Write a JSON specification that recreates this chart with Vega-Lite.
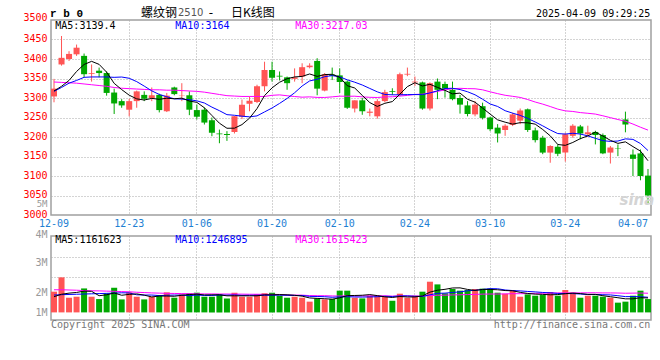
{
"$schema": "https://vega.github.io/schema/vega-lite/v6.json",
"background": "white",
"padding": {"left": 22, "top": 5, "right": 8, "bottom": 4},
"spacing": 21,
"bounds": "flush",
"config": {
  "view": {"stroke": "#a0a0a0", "strokeWidth": 1.5},
  "axis": {"labelFont": "DejaVu Sans Mono", "labelFontSize": 10, "domain": false, "ticks": false, "gridColor": "#a8a8a8", "gridDash": [1, 2], "gridWidth": 1, "labelFlush": false, "labelOverlap": false}
},
"data": {"values": [
{"d":"12-09","o":3304,"h":3349,"l":3289,"c":3324,"v":1850000,"m5":3318,"m10":3317,"m30":3341,"v5":1400000,"v10":1550000,"v30":2020000},
{"d":"12-10","o":3386,"h":3459,"l":3383,"c":3403,"v":3130000,"m5":3330,"m10":3327,"m30":3340,"v5":1620000,"v10":1580000,"v30":2020000},
{"d":"12-11","o":3400,"h":3420,"l":3395,"c":3413,"v":1310000,"m5":3345,"m10":3338,"m30":3339,"v5":1720000,"v10":1600000,"v30":2000000},
{"d":"12-12","o":3412,"h":3437,"l":3408,"c":3429,"v":1400000,"m5":3368,"m10":3345,"m30":3338,"v5":1780000,"v10":1620000,"v30":1980000},
{"d":"12-13","o":3408,"h":3414,"l":3353,"c":3361,"v":2140000,"m5":3386,"m10":3353,"m30":3336,"v5":1900000,"v10":1640000,"v30":1950000},
{"d":"12-16","o":3362,"h":3386,"l":3342,"c":3364,"v":1400000,"m5":3394,"m10":3354,"m30":3334,"v5":1880000,"v10":1660000,"v30":1930000},
{"d":"12-17","o":3370,"h":3378,"l":3353,"c":3364,"v":1190000,"m5":3386.2,"m10":3354,"m30":3332,"v5":1490000,"v10":1680000,"v30":1920000},
{"d":"12-18","o":3364,"h":3368,"l":3306,"c":3313,"v":1700000,"m5":3366.2,"m10":3354,"m30":3330,"v5":1570000,"v10":1700000,"v30":1900000},
{"d":"12-19","o":3314,"h":3324,"l":3259,"c":3286,"v":2200000,"m5":3337.6,"m10":3353,"m30":3327,"v5":1730000,"v10":1720000,"v30":1880000},
{"d":"12-20","o":3292,"h":3297,"l":3275,"c":3281,"v":1160000,"m5":3321.6,"m10":3353.8,"m30":3325,"v5":1530000,"v10":1750000,"v30":1860000},
{"d":"12-23","o":3270,"h":3298,"l":3253,"c":3292,"v":1790000,"m5":3307.2,"m10":3350.6,"m30":3324,"v5":1610000,"v10":1740000,"v30":1840000},
{"d":"12-24","o":3292,"h":3319,"l":3275,"c":3317,"v":1400000,"m5":3297.8,"m10":3342.0,"m30":3323,"v5":1650000,"v10":1570000,"v30":1800000},
{"d":"12-25","o":3308,"h":3317,"l":3292,"c":3298,"v":1160000,"m5":3294.8,"m10":3330.5,"m30":3322,"v5":1540000,"v10":1550000,"v30":1770000},
{"d":"12-26","o":3300,"h":3327,"l":3292,"c":3307,"v":1400000,"m5":3299,"m10":3318.3,"m30":3321,"v5":1380000,"v10":1550000,"v30":1740000},
{"d":"12-27","o":3308,"h":3311,"l":3263,"c":3269,"v":1550000,"m5":3296.6,"m10":3309.1,"m30":3321,"v5":1460000,"v10":1500000,"v30":1720000},
{"d":"12-30","o":3266,"h":3313,"l":3264,"c":3306,"v":1790000,"m5":3299.4,"m10":3303.3,"m30":3320,"v5":1460000,"v10":1530000,"v30":1700000},
{"d":"12-31","o":3327,"h":3329,"l":3307,"c":3310,"v":1310000,"m5":3298,"m10":3297.9,"m30":3320,"v5":1440000,"v10":1550000,"v30":1690000},
{"d":"01-02","o":3305,"h":3338,"l":3292,"c":3306,"v":1610000,"m5":3299.6,"m10":3297.2,"m30":3319,"v5":1530000,"v10":1540000,"v30":1680000},
{"d":"01-03","o":3307,"h":3317,"l":3256,"c":3270,"v":1700000,"m5":3292.2,"m10":3295.6,"m30":3318,"v5":1590000,"v10":1490000,"v30":1670000},
{"d":"01-06","o":3269,"h":3283,"l":3245,"c":3252,"v":1760000,"m5":3288.8,"m10":3292.7,"m30":3317,"v5":1630000,"v10":1550000,"v30":1660000},
{"d":"01-07","o":3270,"h":3276,"l":3232,"c":3237,"v":1400000,"m5":3275,"m10":3287.2,"m30":3315,"v5":1560000,"v10":1510000,"v30":1650000},
{"d":"01-08","o":3243,"h":3250,"l":3202,"c":3211,"v":1400000,"m5":3255.2,"m10":3276.6,"m30":3312,"v5":1570000,"v10":1510000,"v30":1650000},
{"d":"01-09","o":3209,"h":3219,"l":3184,"c":3207,"v":1610000,"m5":3235.4,"m10":3267.5,"m30":3309,"v5":1570000,"v10":1550000,"v30":1640000},
{"d":"01-10","o":3208,"h":3215,"l":3190,"c":3205,"v":1250000,"m5":3222.4,"m10":3257.3,"m30":3306,"v5":1480000,"v10":1540000,"v30":1640000},
{"d":"01-13","o":3213,"h":3254,"l":3209,"c":3253,"v":1760000,"m5":3222.6,"m10":3255.7,"m30":3305,"v5":1480000,"v10":1560000,"v30":1630000},
{"d":"01-14","o":3252,"h":3296,"l":3246,"c":3283,"v":1400000,"m5":3231.8,"m10":3253.4,"m30":3304,"v5":1480000,"v10":1520000,"v30":1630000},
{"d":"01-15","o":3285,"h":3304,"l":3266,"c":3293,"v":1400000,"m5":3248.2,"m10":3251.7,"m30":3304,"v5":1480000,"v10":1530000,"v30":1620000},
{"d":"01-16","o":3290,"h":3334,"l":3287,"c":3330,"v":1610000,"m5":3272.8,"m10":3254.1,"m30":3304,"v5":1480000,"v10":1530000,"v30":1620000},
{"d":"01-17","o":3330,"h":3393,"l":3317,"c":3372,"v":1700000,"m5":3306.2,"m10":3264.3,"m30":3304,"v5":1570000,"v10":1530000,"v30":1610000},
{"d":"01-20","o":3372,"h":3393,"l":3342,"c":3352,"v":1760000,"m5":3326,"m10":3274.3,"m30":3306.9,"v5":1570000,"v10":1530000,"v30":1610000},
{"d":"01-21","o":3357,"h":3368,"l":3345,"c":3355,"v":1490000,"m5":3340.4,"m10":3286.1,"m30":3308.0,"v5":1590000,"v10":1540000,"v30":1600000},
{"d":"01-22","o":3353,"h":3355,"l":3321,"c":3338,"v":1310000,"m5":3349.4,"m10":3298.8,"m30":3305.8,"v5":1570000,"v10":1530000,"v30":1540000},
{"d":"01-23","o":3349,"h":3376,"l":3342,"c":3353,"v":1400000,"m5":3354,"m10":3313.4,"m30":3303.8,"v5":1530000,"v10":1510000,"v30":1540000},
{"d":"01-24","o":3355,"h":3389,"l":3338,"c":3379,"v":1310000,"m5":3355.4,"m10":3330.8,"m30":3302.1,"v5":1450000,"v10":1510000,"v30":1540000},
{"d":"01-27","o":3379,"h":3389,"l":3376,"c":3383,"v":960000,"m5":3361.6,"m10":3343.8,"m30":3302.9,"v5":1290000,"v10":1430000,"v30":1500000},
{"d":"02-05","o":3395,"h":3402,"l":3307,"c":3324,"v":1250000,"m5":3355.4,"m10":3347.9,"m30":3301.5,"v5":1250000,"v10":1420000,"v30":1490000},
{"d":"02-06","o":3319,"h":3364,"l":3317,"c":3361,"v":1160000,"m5":3360,"m10":3354.7,"m30":3301.4,"v5":1220000,"v10":1400000,"v30":1490000},
{"d":"02-07","o":3360,"h":3378,"l":3346,"c":3357,"v":1200000,"m5":3360.8,"m10":3357.4,"m30":3302.9,"v5":1180000,"v10":1350000,"v30":1470000},
{"d":"02-10","o":3358,"h":3376,"l":3313,"c":3341,"v":1940000,"m5":3353.2,"m10":3354.3,"m30":3304.7,"v5":1300000,"v10":1380000,"v30":1460000},
{"d":"02-11","o":3342,"h":3345,"l":3272,"c":3275,"v":1940000,"m5":3331.6,"m10":3346.6,"m30":3304.5,"v5":1500000,"v10":1400000,"v30":1490000},
{"d":"02-12","o":3273,"h":3294,"l":3263,"c":3294,"v":1310000,"m5":3325.6,"m10":3340.5,"m30":3304.6,"v5":1510000,"v10":1380000,"v30":1470000},
{"d":"02-13","o":3294,"h":3300,"l":3257,"c":3266,"v":1250000,"m5":3306.6,"m10":3333.3,"m30":3302.9,"v5":1530000,"v10":1370000,"v30":1470000},
{"d":"02-14","o":3262,"h":3273,"l":3253,"c":3265,"v":1490000,"m5":3288.2,"m10":3324.5,"m30":3301.8,"v5":1590000,"v10":1380000,"v30":1480000},
{"d":"02-17","o":3253,"h":3297,"l":3247,"c":3292,"v":1490000,"m5":3278.4,"m10":3315.8,"m30":3301.3,"v5":1500000,"v10":1400000,"v30":1480000},
{"d":"02-18","o":3292,"h":3321,"l":3289,"c":3315,"v":1400000,"m5":3286.4,"m10":3309.0,"m30":3302.8,"v5":1390000,"v10":1440000,"v30":1480000},
{"d":"02-19","o":3318,"h":3325,"l":3308,"c":3316,"v":1040000,"m5":3290.8,"m10":3308.2,"m30":3303.2,"v5":1330000,"v10":1420000,"v30":1450000},
{"d":"02-20","o":3308,"h":3365,"l":3306,"c":3361,"v":1670000,"m5":3309.8,"m10":3308.2,"m30":3304.9,"v5":1420000,"v10":1470000,"v30":1470000},
{"d":"02-21","o":3360,"h":3378,"l":3356,"c":3362,"v":1310000,"m5":3329.2,"m10":3308.7,"m30":3306.7,"v5":1380000,"v10":1480000,"v30":1460000},
{"d":"02-24","o":3340,"h":3355,"l":3331,"c":3342,"v":1490000,"m5":3339.2,"m10":3308.8,"m30":3309.1,"v5":1380000,"v10":1440000,"v30":1450000},
{"d":"02-25","o":3340,"h":3342,"l":3270,"c":3273,"v":1850000,"m5":3330.8,"m10":3308.6,"m30":3309.8,"v5":1470000,"v10":1430000,"v30":1450000},
{"d":"02-26","o":3273,"h":3340,"l":3268,"c":3338,"v":2740000,"m5":3335.2,"m10":3313.0,"m30":3313.2,"v5":1810000,"v10":1570000,"v30":1500000},
{"d":"02-27","o":3342,"h":3350,"l":3297,"c":3321,"v":2500000,"m5":3327.2,"m10":3318.5,"m30":3316.9,"v5":1980000,"v10":1700000,"v30":1530000},
{"d":"02-28","o":3336,"h":3342,"l":3301,"c":3324,"v":1700000,"m5":3319.6,"m10":3324.4,"m30":3320.8,"v5":2060000,"v10":1720000,"v30":1540000},
{"d":"03-03","o":3321,"h":3342,"l":3294,"c":3297,"v":2090000,"m5":3310.6,"m10":3324.9,"m30":3323.8,"v5":2180000,"v10":1780000,"v30":1560000},
{"d":"03-04","o":3300,"h":3308,"l":3260,"c":3283,"v":1940000,"m5":3312.6,"m10":3321.7,"m30":3324.8,"v5":2190000,"v10":1830000,"v30":1570000},
{"d":"03-05","o":3281,"h":3292,"l":3253,"c":3259,"v":2000000,"m5":3296.8,"m10":3316.0,"m30":3324.0,"v5":2050000,"v10":1930000,"v30":1590000},
{"d":"03-06","o":3258,"h":3292,"l":3253,"c":3283,"v":2090000,"m5":3289.2,"m10":3308.2,"m30":3323.7,"v5":1960000,"v10":1970000,"v30":1610000},
{"d":"03-07","o":3279,"h":3288,"l":3245,"c":3249,"v":2120000,"m5":3274.2,"m10":3296.9,"m30":3321.0,"v5":2050000,"v10":2050000,"v30":1630000},
{"d":"03-10","o":3250,"h":3252,"l":3215,"c":3220,"v":2120000,"m5":3258.8,"m10":3284.7,"m30":3315.9,"v5":2050000,"v10":2120000,"v30":1640000},
{"d":"03-11","o":3224,"h":3233,"l":3186,"c":3209,"v":1760000,"m5":3244,"m10":3278.3,"m30":3311.2,"v5":2020000,"v10":2110000,"v30":1640000},
{"d":"03-12","o":3218,"h":3233,"l":3203,"c":3229,"v":1670000,"m5":3238,"m10":3267.4,"m30":3307.0,"v5":1950000,"v10":2000000,"v30":1650000},
{"d":"03-13","o":3231,"h":3262,"l":3228,"c":3258,"v":2000000,"m5":3233,"m10":3261.1,"m30":3304.3,"v5":1930000,"v10":1950000,"v30":1670000},
{"d":"03-14","o":3242,"h":3273,"l":3233,"c":3268,"v":1400000,"m5":3236.8,"m10":3255.5,"m30":3301.5,"v5":1790000,"v10":1920000,"v30":1670000},
{"d":"03-17","o":3271,"h":3273,"l":3213,"c":3218,"v":1610000,"m5":3236.4,"m10":3247.6,"m30":3296.1,"v5":1690000,"v10":1870000,"v30":1680000},
{"d":"03-18","o":3217,"h":3224,"l":3186,"c":3192,"v":1490000,"m5":3233,"m10":3238.5,"m30":3289.7,"v5":1630000,"v10":1830000,"v30":1700000},
{"d":"03-19","o":3198,"h":3203,"l":3156,"c":3160,"v":1550000,"m5":3219.2,"m10":3228.6,"m30":3284.3,"v5":1610000,"v10":1780000,"v30":1710000},
{"d":"03-20","o":3160,"h":3179,"l":3134,"c":3177,"v":1820000,"m5":3203,"m10":3218.0,"m30":3278.1,"v5":1570000,"v10":1750000,"v30":1730000},
{"d":"03-21","o":3175,"h":3181,"l":3151,"c":3157,"v":1490000,"m5":3180.8,"m10":3208.8,"m30":3271.5,"v5":1590000,"v10":1690000,"v30":1740000},
{"d":"03-24","o":3160,"h":3211,"l":3137,"c":3207,"v":2000000,"m5":3178.6,"m10":3207.5,"m30":3267.0,"v5":1670000,"v10":1680000,"v30":1740000},
{"d":"03-25","o":3203,"h":3233,"l":3198,"c":3229,"v":1760000,"m5":3186,"m10":3209.5,"m30":3265.5,"v5":1720000,"v10":1680000,"v30":1740000},
{"d":"03-26","o":3227,"h":3231,"l":3194,"c":3209,"v":1310000,"m5":3195.8,"m10":3207.5,"m30":3262.6,"v5":1680000,"v10":1640000,"v30":1740000},
{"d":"03-27","o":3207,"h":3229,"l":3203,"c":3212,"v":1490000,"m5":3202.8,"m10":3202.9,"m30":3260.8,"v5":1610000,"v10":1590000,"v30":1750000},
{"d":"03-28","o":3213,"h":3216,"l":3181,"c":3205,"v":1490000,"m5":3212.4,"m10":3196.6,"m30":3258.8,"v5":1610000,"v10":1600000,"v30":1750000},
{"d":"03-31","o":3205,"h":3209,"l":3156,"c":3158,"v":1400000,"m5":3202.6,"m10":3190.6,"m30":3254.4,"v5":1490000,"v10":1580000,"v30":1740000},
{"d":"04-01","o":3160,"h":3177,"l":3132,"c":3173,"v":1310000,"m5":3191.4,"m10":3188.7,"m30":3249.6,"v5":1400000,"v10":1560000,"v30":1740000},
{"d":"04-02","o":3171,"h":3181,"l":3151,"c":3170,"v":870000,"m5":3183.6,"m10":3189.7,"m30":3244.8,"v5":1310000,"v10":1490000,"v30":1730000},
{"d":"04-03","o":3245,"h":3265,"l":3212,"c":3232,"v":960000,"m5":3187.6,"m10":3195.2,"m30":3240.5,"v5":1210000,"v10":1410000,"v30":1710000},
{"d":"04-07","o":3155,"h":3168,"l":3100,"c":3144,"v":1490000,"m5":3175.4,"m10":3193.9,"m30":3233.2,"v5":1210000,"v10":1410000,"v30":1720000},
{"d":"04-08","o":3158,"h":3168,"l":3089,"c":3100,"v":1940000,"m5":3163.8,"m10":3183.2,"m30":3225.1,"v5":1310000,"v10":1400000,"v30":1730000},
{"d":"04-09","o":3101,"h":3118,"l":3030,"c":3050,"v":1190000,"m5":3139.2,"m10":3165.3,"m30":3217.7,"v5":1290000,"v10":1350000,"v30":1710000}
]},
"vconcat": [
{
  "width": 600, "height": 195,
  "resolve": {"axis": {"y": "independent"}},
  "encoding": {"x": {"field": "d", "type": "ordinal", "sort": null, "title": null,
    "scale": {"type": "band", "paddingInner": 0.2, "paddingOuter": 0, "domain": ["12-09","12-10","12-11","12-12","12-13","12-16","12-17","12-18","12-19","12-20","12-23","12-24","12-25","12-26","12-27","12-30","12-31","01-02","01-03","01-06","01-07","01-08","01-09","01-10","01-13","01-14","01-15","01-16","01-17","01-20","01-21","01-22","01-23","01-24","01-27","02-05","02-06","02-07","02-10","02-11","02-12","02-13","02-14","02-17","02-18","02-19","02-20","02-21","02-24","02-25","02-26","02-27","02-28","03-03","03-04","03-05","03-06","03-07","03-10","03-11","03-12","03-13","03-14","03-17","03-18","03-19","03-20","03-21","03-24","03-25","03-26","03-27","03-28","03-31","04-01","04-02","04-03","04-07","04-08","04-09"]},
    "axis": {"values": ["12-09","12-23","01-06","01-20","02-10","02-24","03-10","03-24","04-07"], "labelAngle": 0, "labelColor": "#1e7fd3", "labelPadding": 3, "bandPosition": 0.5, "grid": true, "labelOverlap": false,
      "gridOpacity": {"condition": {"test": "datum.value == '12-09' || datum.value == '04-07'", "value": 0}, "value": 1}}}},
  "layer": [
    {"mark": {"type": "rule", "strokeWidth": 1},
     "encoding": {"y": {"field": "l", "type": "quantitative", "title": null, "scale": {"domain": [3000, 3500], "nice": false, "zero": false},
        "axis": {"values": [3000, 3026, 3050, 3100, 3150, 3200, 3250, 3300, 3350, 3400, 3450, 3500], "format": "d", "labelOverlap": false,
          "labelExpr": "datum.value == 3026 ? '5M' : datum.label", "labelPadding": 4, "grid": true,
          "labelColor": {"condition": {"test": "datum.value == 3026", "value": "#999999"}, "value": "#ff0000"},
          "labelFontSize": {"condition": {"test": "datum.value == 3026", "value": 9}, "value": 10},
          "labelOffset": {"condition": {"test": "datum.value == 3500", "value": -3}, "value": -1},
          "gridOpacity": {"condition": {"test": "datum.value == 3026 || datum.value == 3000 || datum.value == 3500", "value": 0}, "value": 1}}},
       "y2": {"field": "h"},
       "color": {"condition": {"test": "datum.c >= datum.o", "value": "#ff5555"}, "value": "#00a800"}}},
    {"mark": {"type": "bar"},
     "encoding": {"y": {"field": "o", "type": "quantitative", "axis": null, "scale": {"domain": [3000, 3500], "nice": false, "zero": false}},
       "y2": {"field": "c"},
       "color": {"condition": {"test": "datum.c >= datum.o", "value": "#ff5555"}, "value": "#00a800"}}},
    {"mark": {"type": "line", "color": "#ff00ff", "strokeWidth": 1},
     "encoding": {"y": {"field": "m30", "type": "quantitative", "axis": null, "scale": {"domain": [3000, 3500], "nice": false, "zero": false}}}},
    {"mark": {"type": "line", "color": "#0000ff", "strokeWidth": 1},
     "encoding": {"y": {"field": "m10", "type": "quantitative", "axis": null, "scale": {"domain": [3000, 3500], "nice": false, "zero": false}}}},
    {"mark": {"type": "line", "color": "#000000", "strokeWidth": 1},
     "encoding": {"y": {"field": "m5", "type": "quantitative", "axis": null, "scale": {"domain": [3000, 3500], "nice": false, "zero": false}}}},
    {"data": {"values": [{}]},
     "mark": {"type": "text", "align": "center", "baseline": "middle", "dx": 4, "font": "DejaVu Sans", "fontStyle": "italic", "fontWeight": "bold", "fontSize": 15, "color": "#d4d4d4"},
     "encoding": {"x": {"datum": "04-07", "type": "ordinal"}, "y": {"datum": 3038, "type": "quantitative", "axis": null}, "text": {"value": "sina"}}},
    {"data": {"values": [{}]},
     "mark": {"type": "text", "align": "left", "baseline": "middle", "dx": 1.3, "dy": 6.2, "font": "DejaVu Sans Mono", "fontSize": 10, "color": "#000000"},
     "encoding": {"x": {"datum": "12-09", "type": "ordinal"}, "y": {"datum": 3500, "type": "quantitative", "axis": null}, "text": {"value": "MA5:3139.4"}}},
    {"data": {"values": [{}]},
     "mark": {"type": "text", "align": "left", "baseline": "middle", "dx": 1, "dy": 6.2, "font": "DejaVu Sans Mono", "fontSize": 10, "color": "#0000ff"},
     "encoding": {"x": {"datum": "12-31", "type": "ordinal"}, "y": {"datum": 3500, "type": "quantitative", "axis": null}, "text": {"value": "MA10:3164"}}},
    {"data": {"values": [{}]},
     "mark": {"type": "text", "align": "left", "baseline": "middle", "dx": 0.7, "dy": 6.2, "font": "DejaVu Sans Mono", "fontSize": 10, "color": "#ff00ff"},
     "encoding": {"x": {"datum": "01-23", "type": "ordinal"}, "y": {"datum": 3500, "type": "quantitative", "axis": null}, "text": {"value": "MA30:3217.03"}}},
    {"data": {"values": [{}]},
     "mark": {"type": "text", "align": "left", "baseline": "middle", "dx": -4, "dy": -6.5, "font": "Liberation Mono", "fontWeight": "bold", "fontSize": 11, "color": "#000000"},
     "encoding": {"x": {"datum": "12-09", "type": "ordinal"}, "y": {"datum": 3500, "type": "quantitative", "axis": null}, "text": {"value": "r b 0"}}},
    {"data": {"values": [{}]},
     "mark": {"type": "text", "align": "left", "baseline": "middle", "dx": -3.2, "dy": -7.5, "font": "Noto Sans CJK SC", "fontSize": 12, "color": "#000000"},
     "encoding": {"x": {"datum": "12-25", "type": "ordinal"}, "y": {"datum": 3500, "type": "quantitative", "axis": null}, "text": {"value": "螺纹钢"}}},
    {"data": {"values": [{}]},
     "mark": {"type": "text", "align": "left", "baseline": "middle", "dx": 3.7, "dy": -7.5, "font": "DejaVu Sans", "fontSize": 10, "color": "#555555"},
     "encoding": {"x": {"datum": "12-31", "type": "ordinal"}, "y": {"datum": 3500, "type": "quantitative", "axis": null}, "text": {"value": "2510"}}},
    {"data": {"values": [{}]},
     "mark": {"type": "text", "align": "left", "baseline": "middle", "dx": 4.3, "dy": -7.5, "font": "DejaVu Sans", "fontSize": 12, "color": "#000000"},
     "encoding": {"x": {"datum": "01-07", "type": "ordinal"}, "y": {"datum": 3500, "type": "quantitative", "axis": null}, "text": {"value": "-"}}},
    {"data": {"values": [{}]},
     "mark": {"type": "text", "align": "left", "baseline": "middle", "dx": -3.5, "dy": -7.5, "font": "Noto Sans CJK SC", "fontSize": 12, "color": "#000000"},
     "encoding": {"x": {"datum": "01-13", "type": "ordinal"}, "y": {"datum": 3500, "type": "quantitative", "axis": null}, "text": {"value": "日K线图"}}},
    {"data": {"values": [{}]},
     "mark": {"type": "text", "align": "right", "baseline": "middle", "dx": 2.3, "dy": -6, "font": "DejaVu Sans Mono", "fontSize": 10, "color": "#000000"},
     "encoding": {"x": {"datum": "04-09", "type": "ordinal"}, "y": {"datum": 3500, "type": "quantitative", "axis": null}, "text": {"value": "2025-04-09 09:29:25"}}}
  ]
},
{
  "width": 600, "height": 84,
  "resolve": {"axis": {"y": "independent"}},
  "encoding": {"x": {"field": "d", "type": "ordinal", "sort": null, "title": null,
    "scale": {"type": "band", "paddingInner": 0.2, "paddingOuter": 0, "domain": ["12-09","12-10","12-11","12-12","12-13","12-16","12-17","12-18","12-19","12-20","12-23","12-24","12-25","12-26","12-27","12-30","12-31","01-02","01-03","01-06","01-07","01-08","01-09","01-10","01-13","01-14","01-15","01-16","01-17","01-20","01-21","01-22","01-23","01-24","01-27","02-05","02-06","02-07","02-10","02-11","02-12","02-13","02-14","02-17","02-18","02-19","02-20","02-21","02-24","02-25","02-26","02-27","02-28","03-03","03-04","03-05","03-06","03-07","03-10","03-11","03-12","03-13","03-14","03-17","03-18","03-19","03-20","03-21","03-24","03-25","03-26","03-27","03-28","03-31","04-01","04-02","04-03","04-07","04-08","04-09"]},
    "axis": {"values": ["12-09","12-23","01-06","01-20","02-10","02-24","03-10","03-24","04-07"], "labels": false, "bandPosition": 0.5, "grid": true,
      "gridOpacity": {"condition": {"test": "datum.value == '12-09' || datum.value == '04-07'", "value": 0}, "value": 1}}}},
  "layer": [
    {"mark": {"type": "bar"},
     "encoding": {"y": {"field": "v", "type": "quantitative", "title": null, "scale": {"domain": [-679000, 6821000], "nice": false, "zero": false},
        "axis": {"values": [0, 1759000, 3188000, 4464000, 4973000, 6821000], "labelOverlap": false,
          "labelExpr": "datum.value == 0 ? '1M' : datum.value == 1759000 ? '2M' : datum.value == 4464000 ? '3M' : datum.value == 6821000 ? '4M' : ''",
          "labelColor": "#999999", "labelPadding": 4, "grid": true,
          "labelOffset": {"condition": {"test": "datum.value == 6821000", "value": -2}, "value": 0},
          "gridOpacity": {"condition": {"test": "datum.value == 3188000 || datum.value == 4973000", "value": 1}, "value": 0}}},
       "y2": {"datum": 0},
       "color": {"condition": {"test": "datum.c >= datum.o", "value": "#ff5555"}, "value": "#00a800"}}},
    {"mark": {"type": "line", "color": "#ff00ff", "strokeWidth": 1},
     "encoding": {"y": {"field": "v30", "type": "quantitative", "axis": null, "scale": {"domain": [-679000, 6821000], "nice": false, "zero": false}}}},
    {"mark": {"type": "line", "color": "#0000ff", "strokeWidth": 1},
     "encoding": {"y": {"field": "v10", "type": "quantitative", "axis": null, "scale": {"domain": [-679000, 6821000], "nice": false, "zero": false}}}},
    {"mark": {"type": "line", "color": "#000000", "strokeWidth": 1},
     "encoding": {"y": {"field": "v5", "type": "quantitative", "axis": null, "scale": {"domain": [-679000, 6821000], "nice": false, "zero": false}}}},
    {"data": {"values": [{}]},
     "mark": {"type": "text", "align": "left", "baseline": "middle", "dx": 1.3, "dy": 4.4, "font": "DejaVu Sans Mono", "fontSize": 10, "color": "#000000"},
     "encoding": {"x": {"datum": "12-09", "type": "ordinal"}, "y": {"datum": 6821000, "type": "quantitative", "axis": null}, "text": {"value": "MA5:1161623"}}},
    {"data": {"values": [{}]},
     "mark": {"type": "text", "align": "left", "baseline": "middle", "dx": 1, "dy": 4.4, "font": "DejaVu Sans Mono", "fontSize": 10, "color": "#0000ff"},
     "encoding": {"x": {"datum": "12-31", "type": "ordinal"}, "y": {"datum": 6821000, "type": "quantitative", "axis": null}, "text": {"value": "MA10:1246895"}}},
    {"data": {"values": [{}]},
     "mark": {"type": "text", "align": "left", "baseline": "middle", "dx": 0.7, "dy": 4.4, "font": "DejaVu Sans Mono", "fontSize": 10, "color": "#ff00ff"},
     "encoding": {"x": {"datum": "01-23", "type": "ordinal"}, "y": {"datum": 6821000, "type": "quantitative", "axis": null}, "text": {"value": "MA30:1615423"}}},
    {"data": {"values": [{}]},
     "mark": {"type": "text", "align": "left", "baseline": "middle", "dx": -3, "dy": 5, "font": "DejaVu Sans Mono", "fontSize": 10, "color": "#777777"},
     "encoding": {"x": {"datum": "12-09", "type": "ordinal"}, "y": {"datum": -679000, "type": "quantitative", "axis": null}, "text": {"value": "Copyright 2025 SINA.COM"}}},
    {"data": {"values": [{}]},
     "mark": {"type": "text", "align": "right", "baseline": "middle", "dx": 2.3, "dy": 5, "font": "DejaVu Sans Mono", "fontSize": 10, "color": "#777777"},
     "encoding": {"x": {"datum": "04-09", "type": "ordinal"}, "y": {"datum": -679000, "type": "quantitative", "axis": null}, "text": {"value": "http://finance.sina.com.cn"}}}
  ]
}
]
}
